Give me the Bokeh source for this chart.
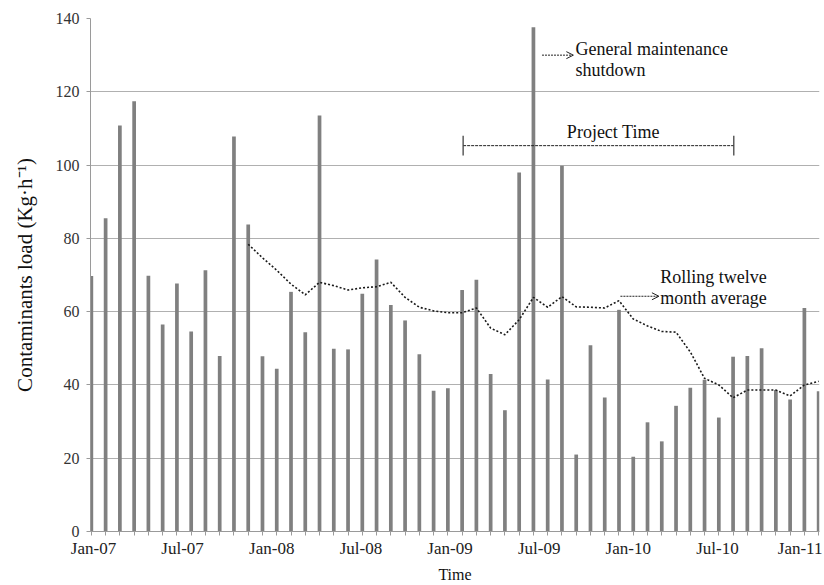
from bokeh.plotting import figure
from bokeh.models import Range1d, FixedTicker, Label, Arrow, OpenHead
from bokeh.embed import file_html
from bokeh.resources import INLINE

# ---- data (4-week periods, Jan-07 .. early 2011) ----
periods = list(range(52))
load = [69.7, 85.5, 110.8, 117.4, 69.8, 56.5, 67.7, 54.6, 71.3, 47.9,
        107.8, 83.8, 47.8, 44.4, 65.4, 54.4, 113.5, 49.9, 49.7, 64.9,
        74.2, 61.8, 57.6, 48.4, 38.4, 39.1, 65.9, 68.7, 43.0, 33.1,
        98.0, 137.6, 41.5, 99.8, 21.0, 50.8, 36.6, 60.5, 20.4, 29.8,
        24.6, 34.3, 39.2, 41.4, 31.1, 47.7, 47.9, 50.0, 38.6, 36.0,
        61.0, 38.3]
rolling_periods = list(range(11, 52))
rolling = [78.4, 74.7, 71.3, 67.5, 64.6, 68.0, 67.1, 65.9, 66.5, 66.8,
           68.0, 63.9, 61.2, 60.2, 59.7, 59.7, 61.0, 55.5, 53.7, 57.8,
           63.9, 61.2, 64.1, 61.3, 61.2, 61.0, 63.0, 58.0, 56.1, 54.6,
           54.4, 49.0, 41.8, 40.0, 36.5, 38.6, 38.6, 38.6, 37.0, 40.0,
           41.0]
tick_labels = ["Jan-07", "Jul-07", "Jan-08", "Jul-08", "Jan-09",
               "Jul-09", "Jan-10", "Jul-10", "Jan-11"]
tick_positions = [round(0.15 + 6.25 * k, 2) for k in range(len(tick_labels))]
y_ticks = [0, 20, 40, 60, 80, 100, 120, 140]

project_start, project_end, project_level = 26.07, 45.05, 105.3

SERIF = "Liberation Serif"

p = figure(width=822, height=585,
           x_range=Range1d(-0.06, 51.06), y_range=Range1d(0, 140),
           output_backend="svg", toolbar_location=None,
           min_border_left=90, min_border_right=3,
           min_border_top=18, min_border_bottom=51)
p.outline_line_color = None
p.background_fill_color = "white"

# grid
p.xgrid.visible = False
p.ygrid.grid_line_color = "#b0b0b0"
p.ygrid.grid_line_width = 1

# bars
p.vbar(x=periods, top=load, width=0.26, fill_color="#808080",
       line_color=None)

# rolling average
p.line(rolling_periods, rolling, line_dash="2 2", line_width=1.6,
       line_color="#1a1a1a")

# y axis
p.yaxis.ticker = FixedTicker(ticks=y_ticks)
p.yaxis.minor_tick_line_color = None
p.yaxis.major_tick_out = 4
p.yaxis.major_tick_in = 0
p.yaxis.major_tick_line_color = "#9a9a9a"
p.yaxis.axis_line_color = "#9a9a9a"
p.yaxis.major_label_standoff = 7
p.yaxis.major_label_text_font = SERIF
p.yaxis.major_label_text_font_size = "16px"
p.yaxis.major_label_text_color = "#333333"
p.yaxis.axis_label = "Contaminants load (Kg·h⁻¹)"
p.yaxis.axis_label_text_font = SERIF
p.yaxis.axis_label_text_font_size = "21px"
p.yaxis.axis_label_text_font_style = "normal"
p.yaxis.axis_label_text_color = "#111111"
p.yaxis.axis_label_standoff = 16

# x axis
p.xaxis.ticker = FixedTicker(ticks=tick_positions, minor_ticks=periods)
p.xaxis.major_label_overrides = {t: l for t, l in zip(tick_positions, tick_labels)}
p.xaxis.major_tick_out = 0
p.xaxis.major_tick_in = 0
p.xaxis.minor_tick_out = 4
p.xaxis.minor_tick_in = 0
p.xaxis.minor_tick_line_color = "#9a9a9a"
p.xaxis.axis_line_color = "#9a9a9a"
p.xaxis.major_label_standoff = 3
p.xaxis.major_label_text_font = SERIF
p.xaxis.major_label_text_font_size = "17px"
p.xaxis.major_label_text_color = "#222222"
p.xaxis.axis_label = "Time"
p.xaxis.axis_label_text_font = SERIF
p.xaxis.axis_label_text_font_size = "16px"
p.xaxis.axis_label_text_font_style = "normal"
p.xaxis.axis_label_text_color = "#111111"
p.xaxis.axis_label_standoff = 5

# Project time bracket
p.segment(x0=[project_start], y0=[project_level], x1=[project_end],
          y1=[project_level], line_color="#222222", line_width=1,
          line_dash="3 1")
p.segment(x0=[project_start, project_end], y0=[project_level - 2.7] * 2,
          x1=[project_start, project_end], y1=[project_level + 2.7] * 2,
          line_color="#444444", line_width=1.3)


def text(x, y, s, align="left"):
    p.add_layout(Label(x=x, y=y, text=s, text_font=SERIF,
                       text_font_size="18px", text_color="#111111",
                       text_align=align, text_baseline="alphabetic"))


text(36.6, 109.1, "Project Time", align="center")
text(33.95, 131.6, "General maintenance")
text(33.95, 125.9, "shutdown")
text(39.9, 69.5, "Rolling twelve")
text(39.9, 63.8, "month average")

p.add_layout(Arrow(x_start=31.6, y_start=130.0, x_end=33.8, y_end=130.0,
                   line_color="#222222", line_width=1, line_dash="2 1",
                   end=OpenHead(size=7, line_color="#222222", line_width=1)))
p.add_layout(Arrow(x_start=37.1, y_start=64.2, x_end=39.8, y_end=64.2,
                   line_color="#222222", line_width=1, line_dash="2 1",
                   end=OpenHead(size=7, line_color="#222222", line_width=1)))

open("out.html", "w").write(file_html(p, INLINE))
